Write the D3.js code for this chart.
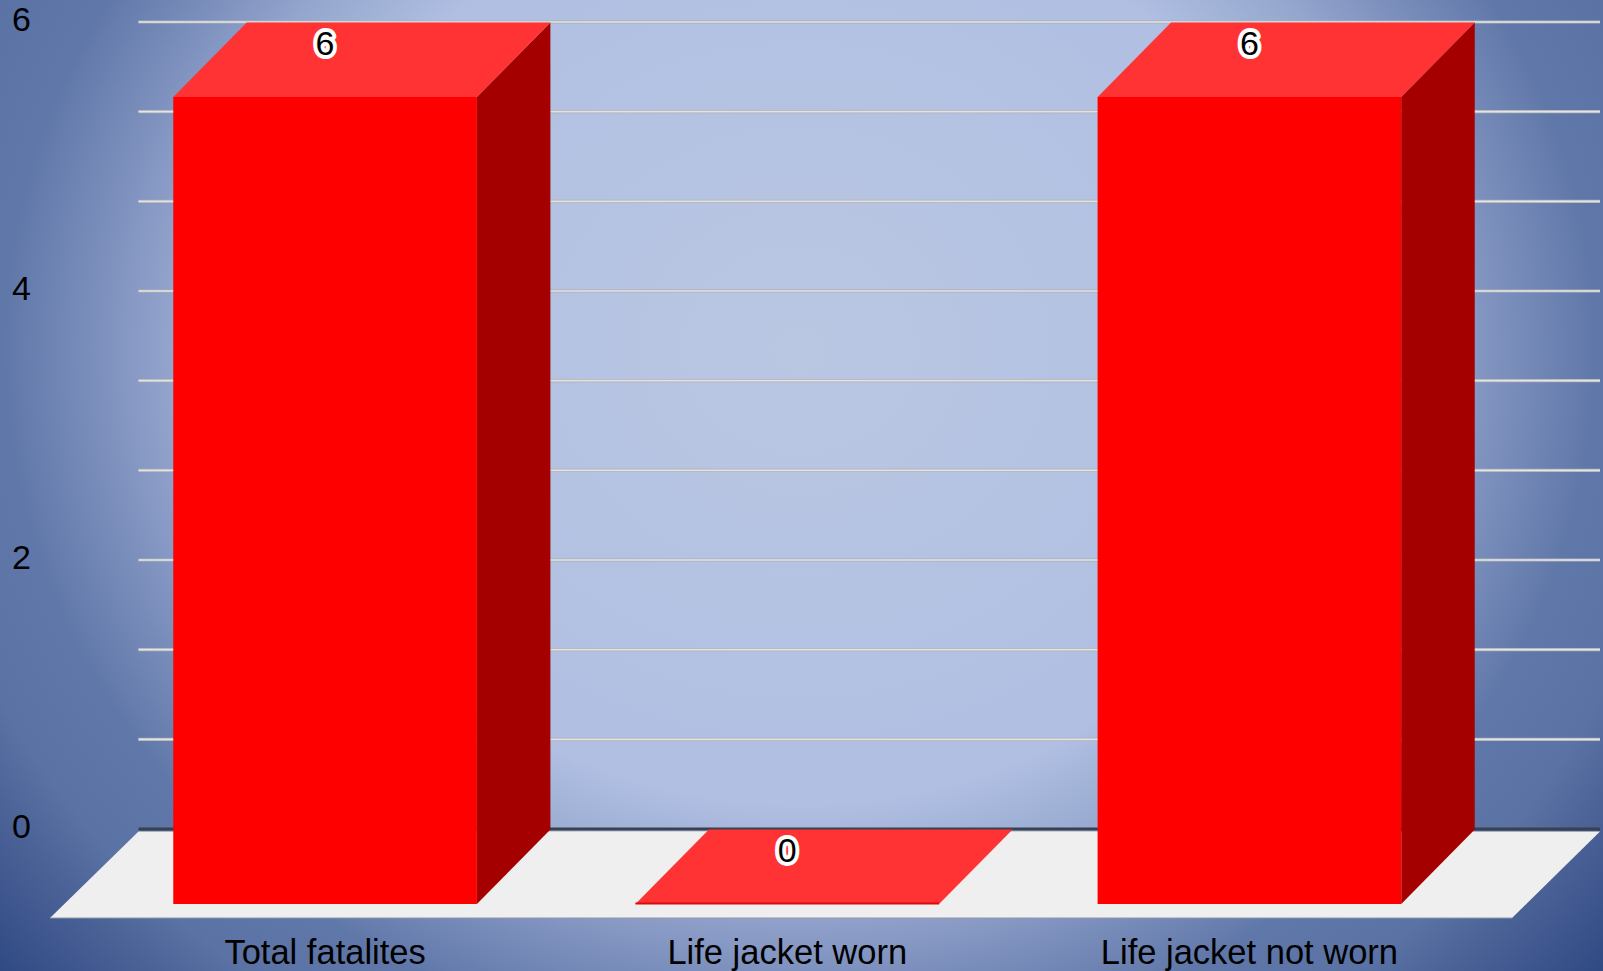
<!DOCTYPE html>
<html><head><meta charset="utf-8">
<script src="https://cdnjs.cloudflare.com/ajax/libs/d3/7.8.5/d3.min.js"></script>
<style>html,body{margin:0;padding:0;background:#3a5288;overflow:hidden}svg{display:block}
text{font-family:"Liberation Sans",Arial,sans-serif;fill:#000}</style></head><body>
<svg id="c" width="1603" height="971"></svg>
<script>
const categories = ["Total fatalites", "Life jacket worn", "Life jacket not worn"];
const values = [6, 0, 6];
const labelTicks = [0, 2, 4, 6];
const gridTicks = [0, 0.6667, 1.3333, 2, 2.6667, 3.3333, 4, 4.6667, 5.3333, 6];

const W = 1603, H = 971, depthX = 73.5, depthY = 74.5;
const svg = d3.select("#c");
const defs = svg.append("defs");
const grad = defs.append("radialGradient").attr("id", "bg")
  .attr("gradientUnits", "userSpaceOnUse")
  .attr("cx", 0).attr("cy", 0).attr("r", 1)
  .attr("gradientTransform", "translate(800,350) scale(1060,945)");
[[0, "#bac7e3"], [0.48, "#b0bfe2"], [0.59, "#94a6cd"], [0.64, "#8496c2"], [0.75, "#6078a9"], [0.84, "#5a72a4"], [0.89, "#4d6498"], [1, "#304a84"]]
  .forEach(s => grad.append("stop").attr("offset", s[0]).attr("stop-color", s[1]));
svg.append("rect").attr("width", W).attr("height", H).attr("fill", "url(#bg)");

const x = d3.scaleBand().domain(categories).range([94, 1480.5]).paddingInner(0.343).paddingOuter(0.1715);
const yFront = d3.scaleLinear().domain([0, 6]).range([904, 97]);
const yBack = d3.scaleLinear().domain([0, 6]).range([829, 22]);

// gridlines
const grid = svg.append("g").selectAll("g").data(gridTicks.slice(1)).join("g");
grid.append("line").attr("x1", 138.5).attr("x2", 1600)
  .attr("y1", d => yBack(d)).attr("y2", d => yBack(d))
  .attr("stroke", "#a9adb6").attr("stroke-width", 3.2);
grid.append("line").attr("x1", 138.5).attr("x2", 1600)
  .attr("y1", d => yBack(d)).attr("y2", d => yBack(d))
  .attr("stroke", "#e4e4e2").attr("stroke-width", 1.6);

// floor
const line = d3.line();
svg.append("path")
  .attr("d", line([[138.5, yBack(0) + 2.5], [1600, yBack(0) + 2.5], [1512, 918], [50, 918]]) + "Z")
  .attr("fill", "#efefef");
svg.append("line").attr("x1", 50).attr("x2", 1512).attr("y1", 918).attr("y2", 918)
  .attr("stroke", "#8f96a6").attr("stroke-width", 1);
svg.append("line").attr("x1", 138.5).attr("x2", 1600)
  .attr("y1", yBack(0)).attr("y2", yBack(0))
  .attr("stroke", "#39414f").attr("stroke-width", 3);

// bars
const bars = svg.append("g").selectAll("g").data(categories).join("g");
const bx = d => x(d), bw = x.bandwidth();
const val = (d) => values[categories.indexOf(d)];
bars.append("path").attr("fill", "#a50000")
  .attr("d", d => line([[bx(d) + bw, yFront(val(d))], [bx(d) + bw + depthX, yFront(val(d)) - depthY],
    [bx(d) + bw + depthX, yFront(0) - depthY], [bx(d) + bw, yFront(0)]]) + "Z");
bars.append("path").attr("fill", "#ff3333")
  .attr("d", d => line([[bx(d), yFront(val(d))], [bx(d) + depthX, yFront(val(d)) - depthY],
    [bx(d) + bw + depthX, yFront(val(d)) - depthY], [bx(d) + bw, yFront(val(d))]]) + "Z");
bars.append("rect").attr("fill", "#ff0000")
  .attr("x", d => bx(d)).attr("width", bw)
  .attr("y", d => yFront(val(d)))
  .attr("height", d => yFront(0) - yFront(val(d)));
bars.filter(d => val(d) === 0).append("line")
  .attr("x1", d => bx(d)).attr("x2", d => bx(d) + bw)
  .attr("y1", d => yFront(0) - 0.5).attr("y2", d => yFront(0) - 0.5)
  .attr("stroke", "#dd0b0b").attr("stroke-width", 2);

// value labels
bars.append("text")
  .attr("x", d => bx(d) + bw / 2)
  .attr("y", d => yFront(val(d)) - depthY / 2 - 17)
  .attr("dy", "0.36em").attr("text-anchor", "middle")
  .attr("font-size", 34)
  .attr("stroke", "#fff").attr("stroke-width", 8).attr("stroke-linejoin", "round")
  .attr("paint-order", "stroke")
  .text(d => val(d));

// axes
const yAxis = d3.axisLeft(yBack).tickValues(labelTicks).tickSize(0).tickPadding(0).tickFormat(d3.format("d"));
const gy = svg.append("g").attr("transform", "translate(31,-2)").call(yAxis);
gy.select(".domain").remove();
gy.selectAll("text").attr("font-size", 34).attr("font-family", '"Liberation Sans"').attr("fill", "#000");

const xAxis = d3.axisBottom(x).tickSize(0).tickPadding(0);
const gx = svg.append("g").attr("transform", "translate(0,939)").call(xAxis);
gx.select(".domain").remove();
gx.selectAll("text").attr("font-size", 34.5).attr("font-family", '"Liberation Sans"').attr("fill", "#000");
</script></body></html>
